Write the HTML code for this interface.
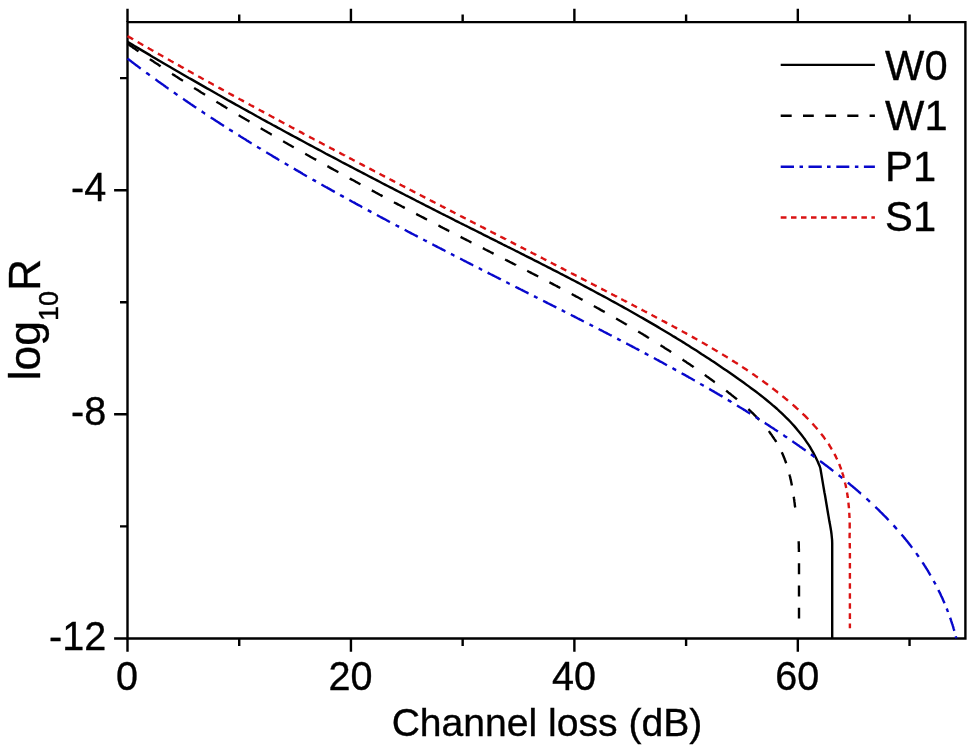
<!DOCTYPE html>
<html lang="en"><head><meta charset="utf-8"><title>log10R vs Channel loss</title>
<style>html,body{margin:0;padding:0;background:#fff}svg{display:block}</style></head>
<body>
<svg width="975" height="753" viewBox="0 0 975 753">
<rect width="975" height="753" fill="#fff"/>
<g fill="none" stroke="#000" stroke-width="2.4" stroke-linecap="butt" stroke-linejoin="miter">
<path d="M127.50,22.10 H965.40 V638.45 H127.50 Z"/>
<path d="M127.50,638.45 v13.4 M127.50,22.10 v-13.4 M239.22,638.45 v7.5 M239.22,22.10 v-7.5 M350.94,638.45 v13.4 M350.94,22.10 v-13.4 M462.66,638.45 v7.5 M462.66,22.10 v-7.5 M574.38,638.45 v13.4 M574.38,22.10 v-13.4 M686.10,638.45 v7.5 M686.10,22.10 v-7.5 M797.82,638.45 v13.4 M797.82,22.10 v-13.4 M909.54,638.45 v7.5 M909.54,22.10 v-7.5 M127.50,638.45 h-13.4 M127.50,526.39 h-7.5 M127.50,414.32 h-13.4 M127.50,302.26 h-7.5 M127.50,190.19 h-13.4 M127.50,78.13 h-7.5"/>
</g>
<g fill="none" stroke-width="2.4" stroke-linecap="butt" stroke-linejoin="round">
<path d="M127.5,41.8 L130.0,43.3 L132.6,44.8 L135.1,46.4 L137.6,47.9 L140.2,49.4 L142.7,50.9 L145.3,52.4 L147.8,53.9 L150.4,55.4 L152.9,57.0 L155.5,58.5 L158.0,60.0 L160.6,61.5 L163.1,63.0 L165.7,64.5 L168.3,66.0 L170.9,67.5 L173.4,69.0 L176.0,70.5 L178.6,72.0 L181.2,73.5 L183.7,75.0 L186.3,76.5 L188.9,78.0 L191.5,79.4 L194.1,80.9 L196.7,82.4 L199.3,83.9 L201.9,85.4 L204.5,86.9 L207.1,88.4 L209.7,89.8 L212.3,91.3 L214.9,92.8 L217.5,94.3 L220.2,95.7 L222.8,97.2 L225.4,98.7 L228.0,100.2 L230.6,101.6 L233.3,103.1 L235.9,104.6 L238.5,106.0 L241.1,107.5 L243.8,109.0 L246.4,110.4 L249.0,111.9 L251.7,113.3 L254.3,114.8 L256.9,116.3 L259.6,117.7 L262.2,119.2 L264.9,120.6 L267.5,122.1 L270.2,123.5 L272.8,125.0 L275.5,126.4 L278.1,127.9 L280.8,129.3 L283.4,130.7 L286.1,132.2 L288.7,133.6 L291.4,135.1 L294.0,136.5 L296.7,137.9 L299.4,139.4 L302.0,140.8 L304.7,142.2 L307.4,143.7 L310.0,145.1 L312.7,146.5 L315.4,148.0 L318.0,149.4 L320.7,150.8 L323.4,152.2 L326.0,153.7 L328.7,155.1 L331.4,156.5 L334.1,157.9 L336.7,159.3 L339.4,160.7 L342.1,162.2 L344.8,163.6 L347.5,165.0 L350.1,166.4 L352.8,167.8 L355.5,169.2 L358.2,170.6 L360.9,172.0 L363.5,173.4 L366.2,174.8 L368.9,176.2 L371.6,177.6 L374.3,179.0 L377.0,180.4 L379.6,181.8 L382.3,183.2 L385.0,184.6 L387.7,186.0 L390.4,187.4 L393.1,188.7 L395.7,190.1 L398.4,191.5 L401.1,192.9 L403.8,194.3 L406.5,195.7 L409.2,197.0 L411.9,198.4 L414.6,199.8 L417.2,201.2 L419.9,202.5 L422.6,203.9 L425.3,205.3 L428.0,206.6 L430.7,208.0 L433.4,209.4 L436.0,210.7 L438.7,212.1 L441.4,213.5 L444.1,214.8 L446.8,216.2 L449.5,217.5 L452.2,218.9 L454.8,220.3 L457.5,221.6 L460.2,223.0 L462.9,224.3 L465.6,225.7 L468.3,227.0 L470.9,228.4 L473.6,229.7 L476.3,231.0 L479.0,232.4 L481.7,233.7 L484.3,235.1 L487.0,236.4 L489.7,237.8 L492.4,239.1 L495.0,240.4 L497.7,241.8 L500.4,243.1 L503.0,244.5 L505.7,245.8 L508.4,247.2 L511.1,248.5 L513.7,249.8 L516.4,251.2 L519.1,252.5 L521.7,253.9 L524.4,255.2 L527.1,256.6 L529.7,257.9 L532.4,259.2 L535.0,260.6 L537.7,261.9 L540.3,263.3 L543.0,264.7 L545.7,266.0 L548.3,267.4 L551.0,268.7 L553.6,270.1 L556.3,271.4 L558.9,272.8 L561.5,274.2 L564.2,275.5 L566.8,276.9 L569.5,278.3 L572.1,279.7 L574.8,281.0 L577.4,282.4 L580.0,283.8 L582.7,285.2 L585.3,286.6 L587.9,288.0 L590.5,289.4 L593.2,290.8 L595.8,292.2 L598.4,293.6 L601.0,295.0 L603.6,296.4 L606.3,297.8 L608.9,299.2 L611.5,300.7 L614.1,302.1 L616.7,303.5 L619.3,305.0 L621.9,306.4 L624.5,307.9 L627.1,309.3 L629.7,310.8 L632.3,312.2 L634.9,313.7 L637.5,315.2 L640.1,316.7 L642.7,318.1 L645.2,319.6 L647.8,321.1 L650.4,322.6 L653.0,324.1 L655.6,325.6 L658.1,327.1 L660.7,328.7 L663.3,330.2 L665.8,331.7 L668.4,333.3 L670.9,334.8 L673.5,336.4 L676.1,337.9 L678.6,339.5 L681.2,341.1 L683.7,342.6 L686.2,344.2 L688.8,345.8 L691.3,347.4 L693.8,349.0 L696.4,350.6 L698.9,352.2 L701.4,353.9 L703.9,355.5 L706.5,357.2 L709.0,358.8 L711.5,360.5 L714.0,362.1 L716.5,363.8 L719.0,365.5 L721.5,367.2 L724.0,368.9 L726.5,370.6 L729.0,372.3 L731.5,374.0 L734.0,375.8 L736.4,377.5 L738.9,379.3 L741.4,381.0 L743.9,382.8 L746.3,384.6 L748.8,386.4 L751.2,388.2 L753.7,390.0 L756.1,391.8 L758.5,393.6 L760.9,395.5 L763.3,397.4 L765.6,399.3 L768.0,401.2 L770.3,403.1 L772.6,405.1 L774.9,407.0 L777.2,409.0 L779.4,411.1 L781.6,413.1 L783.7,415.2 L785.9,417.3 L788.0,419.4 L790.1,421.5 L792.1,423.7 L794.1,425.9 L796.0,428.1 L797.9,430.4 L799.8,432.7 L801.6,435.0 L803.4,437.4 L805.2,439.8 L806.9,442.3 L808.5,444.7 L810.1,447.2 L811.6,449.8 L813.1,452.4 L814.5,455.0 L815.9,457.7 L817.2,460.4 L818.4,463.2 L819.6,466.0 L820.4,468.5 L820.9,471.5 L821.4,474.4 L821.9,477.4 L822.4,480.4 L822.9,483.4 L823.4,486.4 L823.9,489.3 L824.4,492.3 L825.0,495.3 L825.5,498.3 L826.0,501.2 L826.5,504.2 L827.0,507.2 L827.5,510.2 L828.0,513.2 L828.5,516.1 L829.0,519.1 L829.5,522.1 L830.1,525.1 L830.6,528.0 L831.1,531.0 L831.5,534.0 L831.8,537.0 L832.1,540.0 L832.2,543.0 L832.2,546.0 L832.2,549.0 L832.2,552.1 L832.2,555.1 L832.2,558.1 L832.2,561.1 L832.2,564.1 L832.2,567.1 L832.2,570.1 L832.2,573.1 L832.2,576.2 L832.2,579.2 L832.2,582.2 L832.2,585.2 L832.2,588.2 L832.2,591.2 L832.2,594.2 L832.2,597.3 L832.2,600.3 L832.2,603.3 L832.2,606.3 L832.2,609.3 L832.2,612.3 L832.2,615.3 L832.2,618.4 L832.2,621.4 L832.2,624.4 L832.2,627.4 L832.2,630.4 L832.2,633.4 L832.2,636.4 L832.2,638.5" stroke="#000"/>
<path d="M127.5,43.7 L128.3,44.3 L129.1,44.8 L129.9,45.4 L130.8,46.0 L131.6,46.6 L132.4,47.1 L133.2,47.7 L134.0,48.3 L134.9,48.8 L135.7,49.4 L136.5,50.0 L137.3,50.5 L138.1,51.1 L138.5,51.4 M149.9,59.1 L150.7,59.7 L151.5,60.2 L152.3,60.8 L153.2,61.3 L154.0,61.9 L154.8,62.4 L155.6,63.0 L156.5,63.5 L157.3,64.1 L158.1,64.6 L159.0,65.2 L159.8,65.7 L160.6,66.3 M172.1,73.8 L172.9,74.4 L173.7,74.9 L174.6,75.4 L175.4,76.0 L176.3,76.5 L177.1,77.1 L177.9,77.6 L178.8,78.1 L179.6,78.7 L180.4,79.2 L181.3,79.8 L182.1,80.3 L183.0,80.8 M194.1,87.9 L195.0,88.5 L195.8,89.0 L196.7,89.5 L197.5,90.0 L198.4,90.6 L199.2,91.1 L200.1,91.6 L200.9,92.2 L201.7,92.7 L202.6,93.2 L203.4,93.7 L204.3,94.3 L205.1,94.8 M216.4,101.7 L217.3,102.3 L218.1,102.8 L219.0,103.3 L219.8,103.8 L220.7,104.3 L221.5,104.9 L222.4,105.4 L223.3,105.9 L224.1,106.4 L225.0,106.9 L225.8,107.5 L226.7,108.0 L227.3,108.4 M238.7,115.2 L239.6,115.7 L240.4,116.2 L241.3,116.7 L242.1,117.2 L243.0,117.8 L243.9,118.3 L244.7,118.8 L245.6,119.3 L246.4,119.8 L247.3,120.3 L248.2,120.8 L249.0,121.3 L249.5,121.6 M260.7,128.2 L261.6,128.7 L262.4,129.2 L263.3,129.7 L264.2,130.2 L265.0,130.7 L265.9,131.2 L266.8,131.7 L267.6,132.2 L268.5,132.7 L269.4,133.3 L270.3,133.8 L271.1,134.3 L271.8,134.6 M283.1,141.2 L284.0,141.7 L284.8,142.2 L285.7,142.7 L286.6,143.2 L287.5,143.7 L288.3,144.2 L289.2,144.7 L290.1,145.2 L291.0,145.7 L291.8,146.2 L292.7,146.7 L293.6,147.2 L293.8,147.3 M305.2,153.7 L306.1,154.2 L306.9,154.7 L307.8,155.2 L308.7,155.7 L309.6,156.2 L310.4,156.7 L311.3,157.2 L312.2,157.7 L313.1,158.2 L314.0,158.7 L314.8,159.2 L315.7,159.6 L316.2,159.9 M327.4,166.1 L328.3,166.6 L329.1,167.1 L330.0,167.6 L330.9,168.1 L331.8,168.6 L332.7,169.1 L333.5,169.6 L334.4,170.0 L335.3,170.5 L336.2,171.0 L337.1,171.5 L338.0,172.0 L338.4,172.2 M349.7,178.4 L350.5,178.9 L351.4,179.4 L352.3,179.8 L353.2,180.3 L354.1,180.8 L355.0,181.3 L355.8,181.8 L356.7,182.2 L357.6,182.7 L358.5,183.2 L359.4,183.7 L360.3,184.2 L360.5,184.3 M371.8,190.4 L372.7,190.9 L373.6,191.3 L374.4,191.8 L375.3,192.3 L376.2,192.8 L377.1,193.2 L378.0,193.7 L378.9,194.2 L379.8,194.7 L380.6,195.1 L381.5,195.6 L382.4,196.1 L382.6,196.2 M394.0,202.2 L394.8,202.7 L395.7,203.2 L396.6,203.6 L397.5,204.1 L398.4,204.6 L399.3,205.0 L400.2,205.5 L401.1,206.0 L402.0,206.5 L402.8,206.9 L403.7,207.4 L404.6,207.9 L404.8,208.0 M416.2,213.9 L417.1,214.4 L417.9,214.9 L418.8,215.3 L419.7,215.8 L420.6,216.2 L421.5,216.7 L422.4,217.2 L423.3,217.6 L424.2,218.1 L425.1,218.6 L425.9,219.0 L426.8,219.5 L427.0,219.6 M438.4,225.5 L439.3,225.9 L440.2,226.4 L441.0,226.9 L441.9,227.3 L442.8,227.8 L443.7,228.2 L444.6,228.7 L445.5,229.2 L446.4,229.6 L447.3,230.1 L448.2,230.5 L449.0,231.0 L449.3,231.1 M460.6,236.9 L461.5,237.4 L462.4,237.8 L463.2,238.3 L464.1,238.7 L465.0,239.2 L465.9,239.6 L466.8,240.1 L467.7,240.5 L468.6,241.0 L469.5,241.4 L470.3,241.9 L471.2,242.3 L471.5,242.4 M482.8,248.2 L483.7,248.6 L484.5,249.1 L485.4,249.5 L486.3,250.0 L487.2,250.4 L488.1,250.9 L489.0,251.3 L489.9,251.8 L490.7,252.2 L491.6,252.7 L492.5,253.1 L493.4,253.6 L493.6,253.7 M505.1,259.5 L506.0,260.0 L506.9,260.4 L507.8,260.9 L508.7,261.3 L509.5,261.8 L510.4,262.2 L511.3,262.7 L512.2,263.1 L513.1,263.6 L513.9,264.0 L514.8,264.5 L515.7,264.9 L515.9,265.1 M527.2,270.8 L528.1,271.3 L528.9,271.7 L529.8,272.2 L530.7,272.6 L531.6,273.1 L532.5,273.5 L533.3,274.0 L534.2,274.4 L535.1,274.9 L536.0,275.3 L536.9,275.8 L537.7,276.2 L538.2,276.5 M549.4,282.3 L550.3,282.7 L551.1,283.2 L552.0,283.6 L552.9,284.1 L553.8,284.6 L554.6,285.0 L555.5,285.5 L556.4,285.9 L557.3,286.4 L558.1,286.9 L559.0,287.3 L559.9,287.8 L560.3,288.0 M571.7,294.0 L572.6,294.5 L573.4,295.0 L574.3,295.4 L575.2,295.9 L576.0,296.4 L576.9,296.8 L577.8,297.3 L578.7,297.8 L579.5,298.2 L580.4,298.7 L581.3,299.2 L582.1,299.6 L582.6,299.9 M593.9,306.0 L594.7,306.5 L595.6,307.0 L596.5,307.5 L597.3,308.0 L598.2,308.4 L599.1,308.9 L599.9,309.4 L600.8,309.9 L601.6,310.4 L602.5,310.9 L603.4,311.3 L604.2,311.8 L604.7,312.1 M616.1,318.5 L617.0,319.0 L617.8,319.5 L618.7,320.0 L619.5,320.5 L620.4,321.0 L621.3,321.5 L622.1,322.0 L623.0,322.5 L623.8,323.0 L624.7,323.5 L625.5,324.0 L626.4,324.5 L626.8,324.8 M638.2,331.5 L639.0,332.0 L639.9,332.5 L640.7,333.0 L641.6,333.5 L642.4,334.0 L643.3,334.6 L644.1,335.1 L645.0,335.6 L645.8,336.1 L646.7,336.6 L647.5,337.2 L648.4,337.7 L649.0,338.1 M660.5,345.2 L661.3,345.7 L662.1,346.3 L663.0,346.8 L663.8,347.3 L664.7,347.9 L665.5,348.4 L666.4,349.0 L667.2,349.5 L668.0,350.0 L668.9,350.6 L669.7,351.1 L670.6,351.7 L671.2,352.1 M682.5,359.6 L683.4,360.1 L684.2,360.7 L685.0,361.2 L685.9,361.8 L686.7,362.4 L687.5,362.9 L688.4,363.5 L689.2,364.1 L690.0,364.6 L690.9,365.2 L691.7,365.8 L692.5,366.3 L693.4,366.9 L693.6,367.1 M704.8,374.9 L705.6,375.5 L706.4,376.1 L707.2,376.7 L708.1,377.3 L708.9,377.9 L709.7,378.5 L710.5,379.1 L711.4,379.7 L712.2,380.3 L713.0,380.9 L713.8,381.5 L714.6,382.1 L714.8,382.2 M726.1,390.7 L726.9,391.3 L727.7,391.9 L728.5,392.6 L729.3,393.2 L730.1,393.8 L730.9,394.4 L731.7,395.1 L732.5,395.7 L733.3,396.4 L734.1,397.0 L734.9,397.6 L735.7,398.3 L736.5,398.9 L736.9,399.3 M748.3,409.1 L749.0,409.7 L749.7,410.4 L750.5,411.1 L751.2,411.8 L751.9,412.5 L752.7,413.2 L753.4,413.9 L754.1,414.6 L754.8,415.3 L755.5,416.0 L756.2,416.7 L756.9,417.5 L757.6,418.2 L758.3,418.9 L759.0,419.6 L759.2,419.8 M768.8,431.1 L769.4,431.9 L770.0,432.7 L770.5,433.5 L771.1,434.3 L771.7,435.0 L772.2,435.9 L772.8,436.7 L773.3,437.5 L773.9,438.3 L774.4,439.1 L775.0,439.9 L775.5,440.7 L776.0,441.6 L776.2,442.0 M781.8,452.3 L782.2,453.2 L782.6,454.1 L783.0,455.0 L783.4,455.9 L783.7,456.8 L784.1,457.7 L784.5,458.6 L784.8,459.5 L785.2,460.5 L785.5,461.4 L785.8,462.3 L786.2,463.3 M789.5,474.5 L789.7,475.5 L790.0,476.5 L790.2,477.4 L790.4,478.4 L790.6,479.4 L790.9,480.4 L791.1,481.4 L791.3,482.4 L791.5,483.4 L791.7,484.4 L791.9,485.4 M793.7,496.7 L793.9,497.7 L794.0,498.7 L794.2,499.7 L794.3,500.7 L794.4,501.7 L794.6,502.7 L794.7,503.7 L794.8,504.8 L794.9,505.8 L795.1,506.8 L795.2,507.5 M798.7,541.2 L798.7,542.1 L798.7,543.1 L798.8,544.1 L798.8,545.1 L798.8,546.1 L798.8,547.1 L798.8,548.1 L798.9,549.2 L798.9,550.2 L798.9,551.2 L798.9,551.9 M799.0,563.2 L799.0,564.2 L799.0,565.2 L799.0,566.2 L799.0,567.2 L799.0,568.2 L799.0,569.2 L799.0,570.2 L799.0,571.2 L799.0,572.2 L799.0,573.2 L799.0,574.2 M799.0,585.5 L799.0,586.5 L799.0,587.5 L799.0,588.5 L799.0,589.5 L799.0,590.5 L799.0,591.5 L799.0,592.5 L799.0,593.5 L799.0,594.5 L799.0,595.5 L799.0,596.5 M799.0,607.8 L799.0,608.8 L799.0,609.8 L799.0,610.8 L799.0,611.8 L799.0,612.8 L799.0,613.8 L799.0,614.8 L799.0,615.8 L799.0,616.8 L799.0,617.8 L799.0,618.5" stroke="#000"/>
<path d="M127.5,58.6 L128.3,59.2 L129.1,59.8 L129.9,60.4 L130.7,61.0 L131.5,61.6 L132.2,62.2 L133.0,62.8 L133.8,63.4 L134.6,64.0 L135.4,64.6 L136.2,65.2 L137.0,65.8 L137.8,66.4 L138.6,67.0 L139.4,67.6 L140.2,68.2 L140.8,68.6 M146.2,72.6 L147.0,73.2 L147.8,73.8 L148.6,74.4 L149.4,75.0 L149.8,75.3 M155.4,79.3 L156.2,79.9 L157.0,80.5 L157.8,81.1 L158.6,81.7 L159.4,82.2 L160.2,82.8 L161.1,83.4 L161.9,84.0 L162.7,84.6 L163.5,85.1 L164.3,85.7 L165.1,86.3 L165.9,86.9 L166.7,87.4 L167.5,88.0 L168.3,88.6 L168.6,88.7 M173.8,92.4 L174.7,93.0 L175.5,93.6 L176.3,94.2 L177.1,94.7 L177.5,95.0 M183.1,98.8 L183.9,99.4 L184.7,100.0 L185.5,100.5 L186.3,101.1 L187.2,101.6 L188.0,102.2 L188.8,102.8 L189.6,103.3 L190.5,103.9 L191.3,104.4 L192.1,105.0 L192.9,105.6 L193.8,106.1 L194.6,106.7 L195.4,107.2 L196.2,107.8 M201.6,111.4 L202.5,111.9 L203.3,112.5 L204.1,113.0 L204.9,113.6 L205.2,113.7 M210.8,117.4 L211.6,118.0 L212.4,118.5 L213.3,119.1 L214.1,119.6 L215.0,120.1 L215.8,120.7 L216.6,121.2 L217.5,121.8 L218.3,122.3 L219.1,122.9 L220.0,123.4 L220.8,123.9 L221.7,124.5 L222.5,125.0 L223.3,125.6 L224.0,126.0 M229.2,129.3 L230.1,129.9 L230.9,130.4 L231.8,130.9 L232.6,131.5 L232.8,131.6 M238.3,135.1 L239.2,135.6 L240.0,136.1 L240.8,136.7 L241.7,137.2 L242.5,137.7 L243.4,138.3 L244.2,138.8 L245.1,139.3 L245.9,139.8 L246.8,140.4 L247.6,140.9 L248.5,141.4 L249.3,141.9 L250.2,142.5 L251.0,143.0 L251.7,143.4 M257.0,146.7 L257.9,147.2 L258.7,147.7 L259.6,148.2 L260.4,148.7 L260.6,148.9 M266.2,152.3 L267.1,152.8 L267.9,153.3 L268.8,153.8 L269.6,154.3 L270.5,154.8 L271.4,155.3 L272.2,155.9 L273.1,156.4 L273.9,156.9 L274.8,157.4 L275.7,157.9 L276.5,158.4 L277.4,158.9 L278.2,159.5 L279.1,160.0 L279.3,160.1 M284.7,163.3 L285.6,163.8 L286.4,164.3 L287.3,164.8 L288.2,165.3 L288.4,165.4 M293.8,168.6 L294.7,169.1 L295.5,169.6 L296.4,170.1 L297.3,170.6 L298.1,171.1 L299.0,171.6 L299.9,172.1 L300.7,172.6 L301.6,173.1 L302.5,173.7 L303.3,174.2 L304.2,174.7 L305.1,175.2 L305.9,175.7 L306.8,176.2 L307.0,176.3 M312.5,179.4 L313.3,179.9 L314.2,180.4 L315.1,180.9 L316.0,181.4 M321.4,184.5 L322.3,185.0 L323.2,185.5 L324.0,186.0 L324.9,186.5 L325.8,187.0 L326.7,187.4 L327.6,187.9 L328.4,188.4 L329.3,188.9 L330.2,189.4 L331.1,189.9 L331.9,190.4 L332.8,190.9 L333.7,191.4 L334.6,191.9 L334.8,192.0 M340.1,194.9 L340.9,195.4 L341.8,195.9 L342.7,196.4 L343.6,196.9 L343.8,197.0 M349.3,200.0 L350.2,200.5 L351.1,201.0 L351.9,201.5 L352.8,202.0 L353.7,202.4 L354.6,202.9 L355.5,203.4 L356.3,203.9 L357.2,204.4 L358.1,204.9 L359.0,205.3 L359.9,205.8 L360.8,206.3 L361.6,206.8 L362.3,207.1 M367.8,210.1 L368.7,210.6 L369.6,211.1 L370.5,211.6 L371.4,212.1 M376.9,215.0 L377.8,215.5 L378.7,216.0 L379.6,216.5 L380.5,216.9 L381.3,217.4 L382.2,217.9 L383.1,218.4 L384.0,218.8 L384.9,219.3 L385.8,219.8 L386.7,220.3 L387.6,220.7 L388.4,221.2 L389.3,221.7 L390.0,222.0 M395.6,225.0 L396.4,225.5 L397.3,225.9 L398.2,226.4 L399.1,226.9 M404.7,229.8 L405.6,230.3 L406.5,230.8 L407.4,231.2 L408.2,231.7 L409.1,232.2 L410.0,232.6 L410.9,233.1 L411.8,233.6 L412.7,234.0 L413.6,234.5 L414.5,235.0 L415.4,235.4 L416.3,235.9 L417.2,236.4 L417.8,236.7 M423.2,239.5 L424.1,240.0 L425.0,240.5 L425.9,240.9 L426.8,241.4 M432.3,244.3 L433.2,244.7 L434.1,245.2 L435.0,245.7 L435.9,246.1 L436.8,246.6 L437.7,247.1 L438.6,247.5 L439.5,248.0 L440.4,248.4 L441.3,248.9 L442.2,249.4 L443.1,249.8 L444.0,250.3 L444.9,250.8 L445.5,251.1 M450.9,253.9 L451.8,254.3 L452.7,254.8 L453.6,255.3 L454.5,255.7 M460.1,258.6 L461.0,259.0 L461.9,259.5 L462.8,260.0 L463.7,260.4 L464.5,260.9 L465.4,261.3 L466.3,261.8 L467.2,262.3 L468.1,262.7 L469.0,263.2 L469.9,263.6 L470.8,264.1 L471.7,264.5 L472.6,265.0 L473.3,265.3 M478.7,268.1 L479.6,268.5 L480.5,269.0 L481.3,269.5 L482.2,269.9 M487.6,272.6 L488.5,273.1 L489.4,273.6 L490.3,274.0 L491.2,274.5 L492.1,274.9 L493.0,275.4 L493.9,275.8 L494.8,276.3 L495.7,276.7 L496.6,277.2 L497.5,277.7 L498.4,278.1 L499.3,278.6 L500.2,279.0 L500.8,279.4 M506.2,282.1 L507.1,282.5 L508.0,283.0 L508.9,283.5 L509.8,283.9 M515.4,286.7 L516.3,287.2 L517.2,287.7 L518.1,288.1 L519.0,288.6 L519.9,289.0 L520.8,289.5 L521.7,289.9 L522.6,290.4 L523.5,290.8 L524.3,291.3 L525.2,291.7 L526.1,292.2 L527.0,292.6 L527.9,293.1 L528.6,293.4 M534.0,296.1 L534.9,296.6 L535.8,297.1 L536.7,297.5 L537.5,298.0 M543.1,300.8 L544.0,301.2 L544.9,301.7 L545.8,302.1 L546.7,302.6 L547.6,303.1 L548.5,303.5 L549.4,304.0 L550.3,304.4 L551.2,304.9 L552.1,305.3 L553.0,305.8 L553.9,306.2 L554.7,306.7 L555.6,307.1 L556.3,307.5 M561.7,310.2 L562.6,310.6 L563.4,311.1 L564.3,311.5 L565.2,312.0 M570.8,314.8 L571.7,315.3 L572.6,315.7 L573.5,316.2 L574.4,316.6 L575.3,317.1 L576.1,317.5 L577.0,318.0 L577.9,318.5 L578.8,318.9 L579.7,319.4 L580.6,319.8 L581.5,320.3 L582.4,320.7 L583.3,321.2 L583.9,321.5 M589.5,324.4 L590.4,324.8 L591.3,325.3 L592.2,325.7 L593.0,326.2 M598.6,329.0 L599.5,329.5 L600.4,329.9 L601.3,330.4 L602.1,330.8 L603.0,331.3 L603.9,331.8 L604.8,332.2 L605.7,332.7 L606.6,333.1 L607.5,333.6 L608.3,334.0 L609.2,334.5 L610.1,335.0 L611.0,335.4 L611.7,335.8 M617.2,338.6 L618.1,339.1 L619.0,339.6 L619.8,340.0 L620.7,340.5 M626.2,343.4 L627.1,343.8 L628.0,344.3 L628.9,344.7 L629.8,345.2 L630.6,345.7 L631.5,346.1 L632.4,346.6 L633.3,347.1 L634.2,347.5 L635.0,348.0 L635.9,348.5 L636.8,348.9 L637.7,349.4 L638.6,349.9 L639.4,350.3 M644.7,353.1 L645.6,353.6 L646.5,354.1 L647.3,354.5 L648.2,355.0 L648.4,355.1 M653.9,358.0 L654.8,358.5 L655.7,359.0 L656.5,359.5 L657.4,359.9 L658.3,360.4 L659.2,360.9 L660.0,361.4 L660.9,361.8 L661.8,362.3 L662.7,362.8 L663.5,363.3 L664.4,363.7 L665.3,364.2 L666.1,364.7 L667.0,365.2 M672.5,368.1 L673.3,368.6 L674.2,369.1 L675.1,369.6 L675.9,370.1 L676.2,370.2 M681.6,373.2 L682.5,373.7 L683.3,374.2 L684.2,374.6 L685.1,375.1 L685.9,375.6 L686.8,376.1 L687.7,376.6 L688.5,377.1 L689.4,377.6 L690.3,378.0 L691.1,378.5 L692.0,379.0 L692.8,379.5 L693.7,380.0 L694.6,380.5 L694.8,380.6 M700.2,383.7 L701.0,384.2 L701.9,384.7 L702.8,385.2 L703.6,385.7 L703.8,385.8 M709.2,388.9 L710.1,389.4 L710.9,389.9 L711.8,390.4 L712.6,390.9 L713.5,391.4 L714.4,391.9 L715.2,392.4 L716.1,392.9 L716.9,393.4 L717.8,393.9 L718.6,394.4 L719.5,394.9 L720.3,395.4 L721.2,395.9 L722.1,396.4 L722.5,396.7 M727.8,399.9 L728.7,400.4 L729.5,400.9 L730.4,401.4 L731.2,401.9 L731.4,402.1 M737.0,405.4 L737.8,405.9 L738.6,406.4 L739.5,407.0 L740.3,407.5 L741.2,408.0 L742.0,408.5 L742.9,409.0 L743.7,409.6 L744.6,410.1 L745.4,410.6 L746.3,411.1 L747.1,411.7 L747.9,412.2 L748.8,412.7 L749.6,413.2 L750.3,413.6 M755.5,417.0 L756.4,417.5 L757.2,418.0 L758.0,418.6 L758.9,419.1 L759.1,419.2 M764.7,422.9 L765.6,423.4 L766.4,423.9 L767.3,424.5 L768.1,425.0 L768.9,425.6 L769.8,426.1 L770.6,426.7 L771.4,427.2 L772.3,427.7 L773.1,428.3 L773.9,428.8 L774.8,429.4 L775.6,429.9 L776.4,430.5 L777.2,431.0 L777.9,431.5 M783.3,435.1 L784.1,435.6 L784.9,436.2 L785.7,436.7 L786.6,437.3 L787.0,437.6 M792.3,441.2 L793.2,441.8 L794.0,442.4 L794.8,442.9 L795.6,443.5 L796.4,444.1 L797.3,444.7 L798.1,445.2 L798.9,445.8 L799.7,446.4 L800.5,446.9 L801.4,447.5 L802.2,448.1 L803.0,448.7 L803.8,449.3 L804.6,449.8 L805.4,450.4 L805.7,450.6 M810.9,454.3 L811.8,454.9 L812.6,455.5 L813.4,456.1 L814.2,456.7 L814.6,457.0 M820.1,461.0 L820.9,461.6 L821.7,462.2 L822.5,462.8 L823.3,463.4 L824.1,464.0 L824.9,464.6 L825.7,465.2 L826.5,465.8 L827.3,466.4 L828.1,467.0 L828.9,467.6 L829.7,468.2 L830.5,468.8 L831.3,469.5 L832.1,470.1 L832.9,470.7 L833.3,471.0 M838.6,475.2 L839.4,475.8 L840.2,476.4 L841.0,477.0 L841.8,477.7 L842.4,478.1 M847.8,482.6 L848.6,483.2 L849.4,483.8 L850.1,484.5 L850.9,485.1 L851.7,485.8 L852.5,486.4 L853.2,487.0 L854.0,487.7 L854.8,488.3 L855.5,489.0 L856.3,489.6 L857.0,490.3 L857.8,490.9 L858.6,491.6 L859.3,492.3 L860.1,492.9 L860.8,493.6 L861.0,493.7 M866.4,498.6 L867.2,499.2 L867.9,499.9 L868.7,500.6 L869.4,501.3 L869.9,501.8 M875.4,506.9 L876.1,507.6 L876.9,508.3 L877.6,509.0 L878.3,509.7 L879.0,510.4 L879.7,511.1 L880.4,511.8 L881.1,512.5 L881.8,513.2 L882.5,513.9 L883.2,514.6 L883.9,515.3 L884.6,516.0 L885.3,516.7 L886.0,517.4 L886.7,518.1 L887.4,518.9 L888.1,519.6 L888.6,520.1 M893.5,525.4 L894.2,526.1 L894.9,526.9 L895.5,527.6 L896.2,528.4 L896.9,529.1 M901.6,534.5 L902.2,535.3 L902.9,536.1 L903.5,536.8 L904.1,537.6 L904.8,538.4 L905.4,539.1 L906.0,539.9 L906.6,540.7 L907.3,541.4 L907.9,542.2 L908.5,543.0 L909.1,543.8 L909.7,544.6 L910.3,545.3 L910.9,546.1 L911.5,546.9 L912.1,547.7 M916.1,553.1 L916.7,553.9 L917.3,554.7 L917.8,555.5 L918.4,556.3 L918.7,556.8 M922.5,562.3 L923.0,563.1 L923.6,564.0 L924.1,564.8 L924.6,565.6 L925.2,566.5 L925.7,567.3 L926.2,568.2 L926.8,569.0 L927.3,569.9 L927.8,570.7 L928.3,571.6 L928.8,572.4 L929.3,573.3 L929.8,574.2 L930.3,575.0 L930.6,575.4 M933.7,580.9 L934.1,581.8 L934.6,582.6 L935.1,583.5 L935.6,584.4 M938.4,590.0 L938.8,590.9 L939.3,591.8 L939.7,592.7 L940.2,593.6 L940.6,594.5 L941.0,595.4 L941.4,596.3 L941.9,597.2 L942.3,598.1 L942.7,599.1 L943.1,600.0 L943.5,600.9 L943.9,601.8 L944.3,602.7 L944.5,603.2 M946.7,608.5 L947.1,609.5 L947.4,610.4 L947.8,611.3 L948.0,612.0 M950.1,617.7 L950.5,618.7 L950.8,619.6 L951.1,620.6 L951.4,621.5 L951.7,622.5 L952.0,623.4 L952.4,624.4 L952.7,625.4 L953.0,626.3 L953.3,627.3 L953.5,628.3 L953.8,629.2 L954.1,630.2 L954.3,630.9 M955.8,636.3 L956.0,637.3 L956.3,638.2 L956.3,638.3" stroke="#0808cc"/>
<path d="M127.5,36.1 L128.4,36.6 L129.2,37.1 L130.1,37.6 L131.0,38.1 L131.8,38.6 L132.7,39.1 L133.1,39.4 M137.7,42.0 L138.6,42.5 L139.4,43.0 L140.3,43.5 L141.2,44.0 L142.0,44.5 L142.9,45.0 L143.3,45.2 M147.7,47.7 L148.6,48.2 L149.4,48.7 L150.3,49.2 L151.2,49.7 L152.0,50.2 L152.9,50.7 L153.3,51.0 M157.9,53.6 L158.8,54.1 L159.6,54.5 L160.5,55.0 L161.4,55.5 L162.3,56.0 L163.1,56.5 L163.3,56.6 M167.9,59.2 L168.8,59.7 L169.7,60.2 L170.5,60.7 L171.4,61.2 L172.3,61.7 L173.1,62.2 L173.6,62.4 M177.9,64.9 L178.8,65.4 L179.7,65.9 L180.6,66.4 L181.4,66.9 L182.3,67.4 L183.2,67.8 L183.6,68.1 M188.0,70.5 L188.8,71.0 L189.7,71.5 L190.6,72.0 L191.5,72.5 L192.3,73.0 L193.2,73.5 L193.7,73.7 M198.2,76.3 L199.1,76.8 L200.0,77.2 L200.9,77.7 L201.7,78.2 L202.6,78.7 L203.5,79.2 L203.7,79.3 M208.3,81.9 L209.2,82.3 L210.0,82.8 L210.9,83.3 L211.8,83.8 L212.7,84.3 L213.5,84.8 L213.8,84.9 M218.4,87.4 L219.2,87.9 L220.1,88.4 L221.0,88.9 L221.9,89.4 L222.7,89.8 L223.6,90.3 L223.8,90.4 M228.4,93.0 L229.3,93.5 L230.2,93.9 L231.0,94.4 L231.9,94.9 L232.8,95.4 L233.7,95.9 L233.9,96.0 M238.5,98.5 L239.4,99.0 L240.3,99.5 L241.1,99.9 L242.0,100.4 L242.9,100.9 L243.8,101.4 L244.0,101.5 M248.6,104.0 L249.5,104.5 L250.3,105.0 L251.2,105.5 L252.1,105.9 L253.0,106.4 L253.9,106.9 L254.1,107.0 M258.7,109.5 L259.6,110.0 L260.4,110.5 L261.3,110.9 L262.2,111.4 L263.1,111.9 L264.0,112.4 L264.2,112.5 M268.6,114.9 L269.4,115.3 L270.3,115.8 L271.2,116.3 L272.1,116.8 L273.0,117.2 L273.8,117.7 L274.3,118.0 M278.7,120.3 L279.6,120.8 L280.4,121.3 L281.3,121.7 L282.2,122.2 L283.1,122.7 L284.0,123.2 L284.4,123.4 M288.8,125.8 L289.7,126.2 L290.6,126.7 L291.4,127.2 L292.3,127.7 L293.2,128.1 L294.1,128.6 L294.3,128.7 M298.9,131.2 L299.8,131.7 L300.7,132.1 L301.6,132.6 L302.4,133.1 L303.3,133.6 L304.2,134.0 L304.4,134.1 M309.1,136.6 L309.9,137.1 L310.8,137.6 L311.7,138.0 L312.6,138.5 L313.5,139.0 L314.3,139.4 L314.6,139.5 M319.0,141.9 L319.9,142.4 L320.7,142.8 L321.6,143.3 L322.5,143.8 L323.4,144.2 L324.3,144.7 L324.7,144.9 M329.1,147.3 L330.0,147.7 L330.9,148.2 L331.8,148.7 L332.7,149.1 L333.5,149.6 L334.4,150.1 L334.6,150.2 M339.3,152.7 L340.2,153.1 L341.0,153.6 L341.9,154.1 L342.8,154.5 L343.7,155.0 L344.6,155.4 L344.8,155.6 M349.2,157.9 L350.1,158.4 L351.0,158.8 L351.9,159.3 L352.7,159.8 L353.6,160.2 L354.5,160.7 L354.7,160.8 M359.4,163.2 L360.3,163.7 L361.1,164.2 L362.0,164.6 L362.9,165.1 L363.8,165.6 L364.7,166.0 L364.9,166.1 M369.3,168.5 L370.2,168.9 L371.1,169.4 L372.0,169.9 L372.9,170.3 L373.7,170.8 L374.6,171.3 L375.1,171.5 M379.5,173.8 L380.4,174.3 L381.3,174.7 L382.2,175.2 L383.0,175.7 L383.9,176.1 L384.8,176.6 L385.0,176.7 M389.5,179.0 L390.3,179.5 L391.2,179.9 L392.1,180.4 L393.0,180.9 L393.9,181.3 L394.8,181.8 L395.2,182.0 M399.6,184.3 L400.5,184.8 L401.4,185.2 L402.3,185.7 L403.2,186.2 L404.1,186.6 L405.0,187.1 L405.2,187.2 M409.6,189.5 L410.5,190.0 L411.4,190.4 L412.3,190.9 L413.1,191.4 L414.0,191.8 L414.9,192.3 L415.4,192.5 M419.8,194.8 L420.7,195.3 L421.6,195.7 L422.5,196.2 L423.3,196.7 L424.2,197.1 L425.1,197.6 L425.3,197.7 M429.8,200.0 L430.7,200.5 L431.5,200.9 L432.4,201.4 L433.3,201.8 L434.2,202.3 L435.1,202.8 L435.5,203.0 M440.0,205.3 L440.9,205.7 L441.7,206.2 L442.6,206.7 L443.5,207.1 L444.4,207.6 L445.3,208.0 L445.5,208.2 M450.0,210.5 L450.8,210.9 L451.7,211.4 L452.6,211.8 L453.5,212.3 L454.4,212.8 L455.3,213.2 L455.5,213.3 M460.2,215.7 L461.0,216.2 L461.9,216.7 L462.8,217.1 L463.7,217.6 L464.6,218.0 L465.5,218.5 L465.7,218.6 M470.1,220.9 L471.0,221.4 L471.9,221.8 L472.8,222.3 L473.7,222.7 L474.6,223.2 L475.5,223.7 L475.7,223.8 M480.1,226.1 L481.0,226.5 L481.9,227.0 L482.8,227.4 L483.7,227.9 L484.6,228.4 L485.5,228.8 L485.9,229.0 M490.3,231.3 L491.2,231.8 L492.1,232.3 L493.0,232.7 L493.9,233.2 L494.8,233.6 L495.7,234.1 L495.9,234.2 M500.3,236.5 L501.2,237.0 L502.1,237.4 L503.0,237.9 L503.9,238.3 L504.8,238.8 L505.7,239.2 L505.9,239.4 M510.6,241.8 L511.5,242.2 L512.3,242.7 L513.2,243.1 L514.1,243.6 L515.0,244.1 L515.9,244.5 L516.1,244.6 M520.6,246.9 L521.4,247.4 L522.3,247.8 L523.2,248.3 L524.1,248.8 L525.0,249.2 L525.9,249.7 L526.1,249.8 M530.6,252.1 L531.4,252.6 L532.3,253.0 L533.2,253.5 L534.1,253.9 L535.0,254.4 L535.9,254.8 L536.1,255.0 M540.8,257.4 L541.7,257.8 L542.6,258.3 L543.4,258.7 L544.3,259.2 L545.2,259.7 L546.1,260.1 L546.3,260.2 M550.8,262.5 L551.7,263.0 L552.6,263.5 L553.5,263.9 L554.3,264.4 L555.2,264.8 L556.1,265.3 L556.3,265.4 M560.8,267.7 L561.7,268.2 L562.6,268.6 L563.5,269.1 L564.3,269.5 L565.2,270.0 L566.1,270.5 L566.3,270.6 M571.0,273.0 L571.9,273.5 L572.8,273.9 L573.7,274.4 L574.6,274.8 L575.5,275.3 L576.3,275.8 L576.6,275.9 M581.0,278.2 L581.9,278.6 L582.8,279.1 L583.7,279.6 L584.6,280.0 L585.5,280.5 L586.3,280.9 L586.6,281.1 M591.0,283.4 L591.9,283.8 L592.8,284.3 L593.7,284.7 L594.6,285.2 L595.5,285.7 L596.4,286.1 L596.6,286.2 M601.2,288.7 L602.1,289.1 L603.0,289.6 L603.9,290.0 L604.8,290.5 L605.7,291.0 L606.6,291.4 L606.8,291.5 M611.2,293.9 L612.1,294.3 L613.0,294.8 L613.9,295.2 L614.8,295.7 L615.7,296.2 L616.6,296.6 L616.8,296.8 M621.2,299.1 L622.1,299.5 L623.0,300.0 L623.9,300.5 L624.8,300.9 L625.7,301.4 L626.6,301.8 L626.8,302.0 M631.5,304.4 L632.4,304.9 L633.2,305.3 L634.1,305.8 L635.0,306.2 L635.9,306.7 L636.8,307.2 L637.0,307.3 M641.5,309.6 L642.4,310.1 L643.2,310.5 L644.1,311.0 L645.0,311.5 L645.9,311.9 L646.8,312.4 L647.0,312.5 M651.5,314.8 L652.3,315.3 L653.2,315.8 L654.1,316.2 L655.0,316.7 L655.9,317.2 L656.8,317.7 L657.0,317.8 M661.7,320.2 L662.5,320.7 L663.4,321.2 L664.3,321.6 L665.2,322.1 L666.1,322.6 L667.0,323.1 L667.2,323.2 M671.6,325.5 L672.5,326.0 L673.4,326.5 L674.3,327.0 L675.1,327.4 L676.0,327.9 L676.9,328.4 L677.1,328.5 M681.8,331.0 L682.6,331.5 L683.5,332.0 L684.4,332.5 L685.3,332.9 L686.2,333.4 L687.0,333.9 L687.2,334.0 M691.8,336.6 L692.7,337.1 L693.6,337.6 L694.5,338.1 L695.3,338.5 L696.2,339.0 L697.1,339.5 L697.3,339.6 M701.9,342.2 L702.7,342.7 L703.6,343.2 L704.5,343.7 L705.3,344.2 L706.2,344.7 L707.1,345.2 L707.5,345.5 M712.0,348.1 L712.9,348.7 L713.8,349.2 L714.6,349.7 L715.5,350.2 L716.3,350.7 L717.2,351.2 L717.6,351.5 M722.1,354.2 L723.0,354.7 L723.8,355.2 L724.7,355.7 L725.5,356.3 L726.4,356.8 L727.2,357.3 L727.7,357.6 M732.1,360.4 L732.9,360.9 L733.8,361.4 L734.6,362.0 L735.5,362.5 L736.3,363.0 L737.2,363.6 L737.8,364.0 M742.2,366.8 L743.0,367.4 L743.8,367.9 L744.7,368.5 L745.5,369.1 L746.3,369.6 L747.2,370.2 L747.8,370.6 M752.3,373.7 L753.1,374.2 L754.0,374.8 L754.8,375.4 L755.6,376.0 L756.4,376.5 L757.2,377.1 L757.9,377.5 M762.3,380.7 L763.1,381.3 L763.9,381.9 L764.7,382.5 L765.5,383.1 L766.4,383.7 L767.2,384.3 L768.0,384.9 M772.3,388.2 L773.1,388.8 L773.9,389.4 L774.7,390.0 L775.5,390.6 L776.3,391.2 L777.1,391.8 L777.9,392.5 L778.1,392.6 M782.4,396.1 L783.2,396.7 L783.9,397.3 L784.7,397.9 L785.5,398.6 L786.3,399.2 L787.0,399.9 L787.8,400.5 L788.0,400.7 M792.6,404.6 L793.3,405.2 L794.1,405.9 L794.8,406.5 L795.6,407.2 L796.3,407.9 L797.1,408.6 L797.8,409.2 L798.2,409.6 M802.6,413.6 L803.3,414.3 L804.0,415.0 L804.8,415.7 L805.5,416.4 L806.2,417.1 L806.9,417.8 L807.6,418.5 L808.3,419.2 M812.4,423.6 L813.1,424.3 L813.7,425.0 L814.4,425.8 L815.1,426.5 L815.7,427.2 L816.4,428.0 L817.0,428.7 L817.5,429.3 M821.1,433.7 L821.7,434.5 L822.3,435.2 L822.9,436.0 L823.5,436.8 L824.1,437.6 L824.6,438.4 L825.2,439.2 L825.4,439.4 M828.4,443.8 L829.0,444.6 L829.5,445.5 L830.0,446.3 L830.5,447.1 L831.0,448.0 L831.5,448.8 L831.9,449.4 M834.4,453.9 L834.9,454.8 L835.3,455.7 L835.8,456.5 L836.2,457.4 L836.6,458.3 L837.1,459.2 L837.2,459.4 M839.1,463.9 L839.5,464.8 L839.9,465.8 L840.2,466.7 L840.6,467.6 L840.9,468.5 L841.2,469.5 M842.2,472.3 L842.5,473.3 L842.8,474.2 L843.1,475.2 L843.4,476.2 L843.6,477.1 L843.8,477.8 M845.0,482.5 L845.2,483.5 L845.5,484.5 L845.7,485.5 L845.9,486.5 L846.1,487.4 L846.2,487.9 M847.0,492.5 L847.2,493.5 L847.3,494.5 L847.5,495.5 L847.6,496.5 L847.8,497.5 L847.8,498.0 M848.4,502.6 L848.5,503.6 L848.6,504.6 L848.7,505.6 L848.8,506.6 L848.9,507.7 L848.9,508.2 M849.3,512.7 L849.3,513.8 L849.4,514.8 L849.4,515.8 L849.5,516.8 L849.5,517.8 L849.5,518.1 M849.7,522.6 L849.7,523.6 L849.7,524.6 L849.7,525.6 L849.7,526.6 L849.7,527.6 L849.7,528.4 M849.7,532.8 L849.7,533.8 L849.6,534.8 L849.6,535.8 L849.6,536.8 L849.6,537.8 L849.6,538.2 M849.7,543.0 L849.8,544.0 L849.8,545.0 L849.8,546.0 L849.8,547.0 L849.9,548.0 L849.9,548.5 M849.9,553.0 L849.9,554.0 L849.9,555.0 L849.9,556.0 L849.9,557.0 L849.9,558.0 L849.9,558.5 M849.9,563.0 L849.9,564.0 L849.9,565.0 L849.9,566.0 L849.9,567.0 L849.9,568.0 L849.9,568.5 M849.9,573.0 L849.9,574.0 L849.9,575.0 L849.9,576.0 L849.9,577.0 L849.9,578.0 L849.9,578.8 M849.9,583.3 L849.9,584.3 L849.9,585.3 L849.9,586.3 L849.9,587.3 L849.9,588.3 L849.9,588.8 M849.9,593.3 L849.9,594.3 L849.9,595.3 L849.9,596.3 L849.9,597.3 L849.9,598.3 L849.9,598.8 M849.9,603.3 L849.9,604.3 L849.9,605.3 L849.9,606.3 L849.9,607.3 L849.9,608.3 L849.9,608.8 M849.9,613.3 L849.9,614.3 L849.9,615.3 L849.9,616.3 L849.9,617.3 L849.9,618.3 L849.9,619.0 M849.9,623.5 L849.9,624.5 L849.9,625.5 L849.9,626.5 L849.9,627.5 L849.9,628.3" stroke="#da1212"/>
</g>
<g fill="none" stroke-width="2.4">
<path d="M780.7,64.9 H874.9" stroke="#000"/>
<path d="M780.7,115.7 L781.7,115.7 L782.7,115.7 L783.7,115.7 L784.7,115.7 L785.7,115.7 L786.7,115.7 L787.7,115.7 L788.7,115.7 L789.7,115.7 L790.7,115.7 L791.7,115.7 M803.0,115.7 L804.0,115.7 L805.0,115.7 L806.0,115.7 L807.0,115.7 L808.0,115.7 L809.0,115.7 L810.0,115.7 L811.0,115.7 L812.0,115.7 L813.0,115.7 L813.8,115.7 M825.3,115.7 L826.3,115.7 L827.3,115.7 L828.3,115.7 L829.3,115.7 L830.3,115.7 L831.3,115.7 L832.3,115.7 L833.3,115.7 L834.3,115.7 L835.3,115.7 L836.1,115.7 M847.3,115.7 L848.3,115.7 L849.3,115.7 L850.3,115.7 L851.4,115.7 L852.4,115.7 L853.4,115.7 L854.4,115.7 L855.4,115.7 L856.4,115.7 L857.4,115.7 L858.4,115.7 M869.6,115.7 L870.6,115.7 L871.6,115.7 L872.6,115.7 L873.6,115.7 L874.6,115.7 L874.9,115.7" stroke="#000"/>
<path d="M780.7,166.8 L781.7,166.8 L782.7,166.8 L783.7,166.8 L784.7,166.8 L785.7,166.8 L786.7,166.8 L787.7,166.8 L788.7,166.8 L789.7,166.8 L790.7,166.8 L791.7,166.8 L792.7,166.8 L793.7,166.8 L794.0,166.8 M799.5,166.8 L800.5,166.8 L801.5,166.8 L802.5,166.8 L803.0,166.8 M808.5,166.8 L809.5,166.8 L810.5,166.8 L811.5,166.8 L812.5,166.8 L813.5,166.8 L814.5,166.8 L815.5,166.8 L816.5,166.8 L817.5,166.8 L818.5,166.8 L819.5,166.8 L820.5,166.8 L821.5,166.8 L821.8,166.8 M827.0,166.8 L828.1,166.8 L829.1,166.8 L830.1,166.8 L830.6,166.8 M836.3,166.8 L837.3,166.8 L838.3,166.8 L839.3,166.8 L840.3,166.8 L841.3,166.8 L842.3,166.8 L843.3,166.8 L844.3,166.8 L845.3,166.8 L846.3,166.8 L847.3,166.8 L848.3,166.8 L849.3,166.8 M854.9,166.8 L855.9,166.8 L856.9,166.8 L857.9,166.8 L858.4,166.8 M863.9,166.8 L864.9,166.8 L865.9,166.8 L866.9,166.8 L867.9,166.8 L868.9,166.8 L869.9,166.8 L870.9,166.8 L871.9,166.8 L872.9,166.8 L873.9,166.8 L874.9,166.8" stroke="#0808cc"/>
<path d="M780.7,217.5 L781.7,217.5 L782.7,217.5 L783.7,217.5 L784.7,217.5 L785.7,217.5 L786.5,217.5 M791.0,217.5 L792.0,217.5 L793.0,217.5 L794.0,217.5 L795.0,217.5 L796.0,217.5 L796.5,217.5 M801.0,217.5 L802.0,217.5 L803.0,217.5 L804.0,217.5 L805.0,217.5 L806.0,217.5 L806.5,217.5 M811.0,217.5 L812.0,217.5 L813.0,217.5 L814.0,217.5 L815.0,217.5 L816.0,217.5 L816.5,217.5 M821.0,217.5 L822.0,217.5 L823.0,217.5 L824.0,217.5 L825.0,217.5 L826.0,217.5 L826.8,217.5 M831.3,217.5 L832.3,217.5 L833.3,217.5 L834.3,217.5 L835.3,217.5 L836.3,217.5 L836.8,217.5 M841.3,217.5 L842.3,217.5 L843.3,217.5 L844.3,217.5 L845.3,217.5 L846.3,217.5 L846.8,217.5 M851.4,217.5 L852.4,217.5 L853.4,217.5 L854.4,217.5 L855.4,217.5 L856.4,217.5 L856.9,217.5 M861.4,217.5 L862.4,217.5 L863.4,217.5 L864.4,217.5 L865.4,217.5 L866.4,217.5 L866.9,217.5 M871.4,217.5 L872.4,217.5 L873.4,217.5 L874.4,217.5 L874.9,217.5" stroke="#da1212"/>
</g>
<g font-family="'Liberation Sans', sans-serif" fill="#000" stroke="#000" stroke-width="0.35">
<g font-size="41.7">
<text transform="translate(885.1,79.6) scale(1,1.035)">W0</text>
<text transform="translate(885.1,130.0) scale(1,1.035)">W1</text>
<text transform="translate(885.1,180.6) scale(1,1.035)">P1</text>
<text transform="translate(885.1,231.2) scale(1,1.035)">S1</text>
<text transform="translate(547.0,736.2) scale(1,1.012)" text-anchor="middle" font-size="39.1">Channel loss (dB)</text>
</g>
<g font-size="39.6" text-anchor="middle">
<text transform="translate(127.0,690.2) scale(1,1.035)">0</text>
<text transform="translate(350.4,690.2) scale(1,1.035)">20</text>
<text transform="translate(573.9,690.2) scale(1,1.035)">40</text>
<text transform="translate(797.3,690.2) scale(1,1.035)">60</text>
</g>
<g font-size="39.6" text-anchor="end">
<text transform="translate(106.2,201.2) scale(1,1.035)">-4</text>
<text transform="translate(106.2,425.3) scale(1,1.035)">-8</text>
<text transform="translate(106.2,649.5) scale(1,1.035)">-12</text>
</g>
<text transform="translate(40.2,380.3) rotate(-90) scale(1,1.015)" font-size="44.5">log<tspan font-size="27" dy="17.6">10</tspan><tspan dy="-17.6">R</tspan></text>
</g>
</svg>
</body></html>
